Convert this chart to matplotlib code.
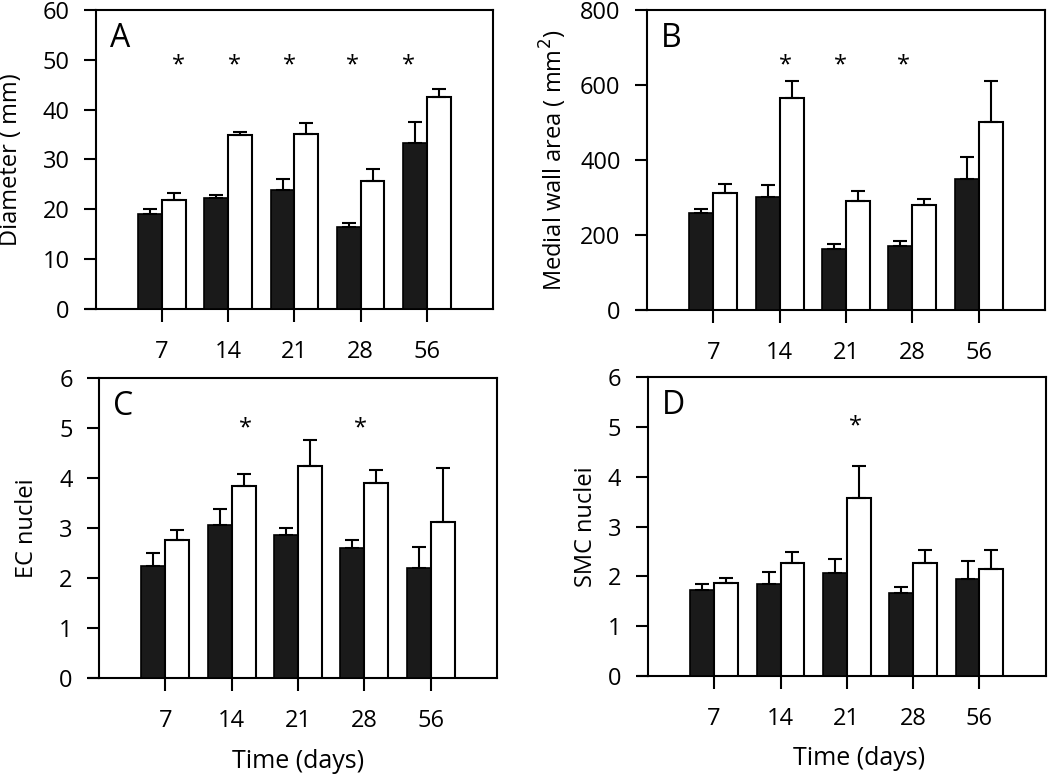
#!/usr/bin/env python3
"""
Four-panel bar chart: vessel measures over time (filled vs open groups)
"""
import matplotlib.pyplot as plt
import numpy as np

plt.rcParams['font.family'] = ['Open Sans', 'DejaVu Sans']

days = ['7', '14', '21', '28', '56']

# panel A - diameter
diam_black = [19.0, 22.2, 23.8, 16.4, 33.3]
diam_black_err = [1.1, 0.6, 2.2, 0.8, 4.3]
diam_white = [21.9, 34.9, 35.1, 25.7, 42.6]
diam_white_err = [1.3, 0.7, 2.2, 2.4, 1.6]
diam_stars = [1.25, 2.09, 2.93, 3.88, 4.73]

# panel B - medial wall area
wall_black = [259, 302, 163, 171, 349]
wall_black_err = [11, 30, 13, 12, 58]
wall_white = [311, 564, 290, 281, 500]
wall_white_err = [25, 46, 26, 14, 111]
wall_stars = [2.09, 2.92, 3.86]

# panel C - EC nuclei
ec_black = [2.25, 3.07, 2.87, 2.61, 2.21]
ec_black_err = [0.25, 0.32, 0.14, 0.16, 0.42]
ec_white = [2.76, 3.84, 4.25, 3.90, 3.12]
ec_white_err = [0.21, 0.24, 0.51, 0.27, 1.09]
ec_stars = [2.21, 3.94]

# panel D - SMC nuclei
smc_black = [1.73, 1.85, 2.07, 1.67, 1.95]
smc_black_err = [0.12, 0.24, 0.28, 0.12, 0.35]
smc_white = [1.87, 2.27, 3.58, 2.27, 2.15]
smc_white_err = [0.10, 0.22, 0.63, 0.25, 0.38]
smc_stars = [3.13]


def draw_panel(ax, black, black_err, white, white_err, stars, star_y,
               ymax, ystep, letter, ylabel):
    x = np.arange(1, len(days) + 1)
    w = 0.36
    err_kw = dict(ecolor='black', elinewidth=1.5, capsize=5, capthick=1.5)
    ax.bar(x - w / 2, black, w, color='#1a1a1a', edgecolor='black',
           linewidth=1.2, yerr=[np.zeros(len(black)), black_err],
           error_kw=err_kw, zorder=3)
    ax.bar(x + w / 2, white, w, color='white', edgecolor='black',
           linewidth=1.5, yerr=[np.zeros(len(white)), white_err],
           error_kw=err_kw, zorder=3)

    # significance marks (asterisk glyph sits high, nudge it down)
    for sx in stars:
        ax.annotate('*', (sx, star_y), xytext=(0, -4),
                    textcoords='offset points', ha='center', va='center',
                    fontsize=17)

    ax.text(0.035, 0.905, letter, transform=ax.transAxes, fontsize=23,
            ha='left', va='center')

    ax.set_xlim(0, len(days) + 1)
    ax.set_ylim(0, ymax)
    ax.set_xticks(x)
    ax.set_xticklabels(days)
    ax.set_yticks(np.arange(0, ymax + ystep / 2, ystep))
    ax.tick_params(axis='both', direction='out', length=9, width=1.5,
                   labelsize=17)
    ax.tick_params(axis='x', pad=13)
    ax.tick_params(axis='y', pad=10)
    for sp in ax.spines.values():
        sp.set_linewidth(1.5)
    # bottom line runs out under the y ticks
    ax.axhline(0, xmin=-0.024, xmax=0, color='black', lw=1.5, clip_on=False)
    ax.set_ylabel(ylabel, fontsize=17)


fig = plt.figure(figsize=(10.5, 7.74), dpi=100)
axA = fig.add_axes([0.0914, 0.6008, 0.3781, 0.3863])
axB = fig.add_axes([0.6162, 0.5995, 0.3790, 0.3876])
axC = fig.add_axes([0.0943, 0.1240, 0.3790, 0.3876])
axD = fig.add_axes([0.6170, 0.1266, 0.3790, 0.3863])

draw_panel(axA, diam_black, diam_black_err, diam_white, diam_white_err,
           diam_stars, 50, 60, 10, 'A', 'Diameter ( mm)')
draw_panel(axB, wall_black, wall_black_err, wall_white, wall_white_err,
           wall_stars, 667, 800, 200, 'B', 'Medial wall area ( mm$^2$)')
draw_panel(axC, ec_black, ec_black_err, ec_white, ec_white_err,
           ec_stars, 5.1, 6, 1, 'C', 'EC nuclei')
draw_panel(axD, smc_black, smc_black_err, smc_white, smc_white_err,
           smc_stars, 5.12, 6, 1, 'D', 'SMC nuclei')

axA.yaxis.set_label_coords(-0.185, 0.5)
axB.yaxis.set_label_coords(-0.195, 0.5)
axC.yaxis.set_label_coords(-0.15, 0.5)
axD.yaxis.set_label_coords(-0.125, 0.5)

axC.set_xlabel('Time (days)', fontsize=18)
axD.set_xlabel('Time (days)', fontsize=18)
axC.xaxis.set_label_coords(0.5, -0.235)
axD.xaxis.set_label_coords(0.53, -0.235)

plt.savefig('out.png', dpi=100)
plt.close()
